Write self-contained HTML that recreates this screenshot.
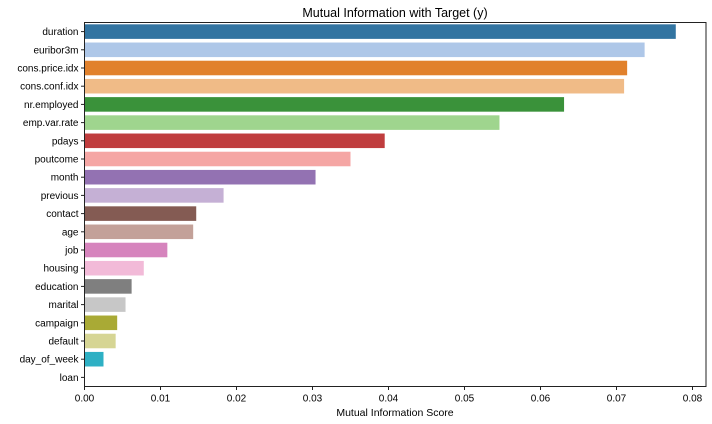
<!DOCTYPE html>
<html><head><meta charset="utf-8"><style>
html,body{margin:0;padding:0;background:#fff;}
svg{display:block;font-family:"Liberation Sans","DejaVu Sans",sans-serif;}
</style></head><body>
<svg id="chart" width="712" height="424">
<text x="395" y="17" text-anchor="middle" font-size="12.5" fill="#000">Mutual Information with Target (y)</text>
<g id="bars"></g>
<g id="yaxis"></g>
<g id="xaxis"></g>
<rect x="84.5" y="22.5" width="621.5" height="364" fill="none" stroke="#222" stroke-width="1"/>
<text x="395" y="416" text-anchor="middle" font-size="10.5" fill="#000">Mutual Information Score</text>
</svg>
<script>
const categories = ["duration","euribor3m","cons.price.idx","cons.conf.idx","nr.employed","emp.var.rate","pdays","poutcome","month","previous","contact","age","job","housing","education","marital","campaign","default","day_of_week","loan"];
const values = [0.0778,0.0737,0.0714,0.0710,0.0631,0.0546,0.0395,0.0350,0.0304,0.0183,0.0147,0.0143,0.0109,0.0078,0.0062,0.0054,0.0043,0.0041,0.0025,0.0];
const xTicks = [0,0.01,0.02,0.03,0.04,0.05,0.06,0.07,0.08];
const xTickLabels = ["0.00","0.01","0.02","0.03","0.04","0.05","0.06","0.07","0.08"];
const colors = ["#3274a1","#aec7e8","#e1812c","#f0bb87","#3a923a","#9fd58e","#c03d3e","#f5a6a4","#9372b2","#c5b0d5","#845b53","#c3a199","#d684bd","#f2bad8","#7f7f7f","#c7c7c7","#a9aa35","#d6d594","#2eb0c4","#a5d9e3"];
const NS="http://www.w3.org/2000/svg";
const X0=84.5, XS=7600, TOP=22.5, BOT=386.5;
const band=(BOT-TOP)/categories.length;
function xs(v){return X0+v*XS;}
function ys(i){return TOP+i*band;}
const gb=document.getElementById('bars'),gy=document.getElementById('yaxis'),gx=document.getElementById('xaxis');
categories.forEach((c,i)=>{
  const r=document.createElementNS(NS,'rect');
  r.setAttribute('x',xs(0));r.setAttribute('y',ys(i)+band*0.1);
  r.setAttribute('width',Math.max(0,xs(values[i])-xs(0)));r.setAttribute('height',band*0.8);
  r.setAttribute('fill',colors[i%colors.length]);
  
  
  gb.appendChild(r);
  const cy=ys(i)+band/2;
  const t=document.createElementNS(NS,'line');
  t.setAttribute('x1',X0-3.5);t.setAttribute('x2',X0);t.setAttribute('y1',cy);t.setAttribute('y2',cy);t.setAttribute('stroke','#222');
  
  
  gy.appendChild(t);
  const l=document.createElementNS(NS,'text');
  l.setAttribute('x',X0-6);l.setAttribute('y',cy+3.5);l.setAttribute('text-anchor','end');l.setAttribute('font-size','10');
  l.textContent=c;
  
  
  gy.appendChild(l);
});
xTicks.forEach((v,i)=>{
  const x=xs(v);
  const t=document.createElementNS(NS,'line');
  t.setAttribute('x1',x);t.setAttribute('x2',x);t.setAttribute('y1',BOT);t.setAttribute('y2',BOT+3.5);t.setAttribute('stroke','#222');
  
  
  gx.appendChild(t);
  const l=document.createElementNS(NS,'text');
  l.setAttribute('x',x);l.setAttribute('y',BOT+15);l.setAttribute('text-anchor','middle');l.setAttribute('font-size','10');
  l.textContent=xTickLabels[i];
  
  
  gx.appendChild(l);
});
</script>
</body></html>
